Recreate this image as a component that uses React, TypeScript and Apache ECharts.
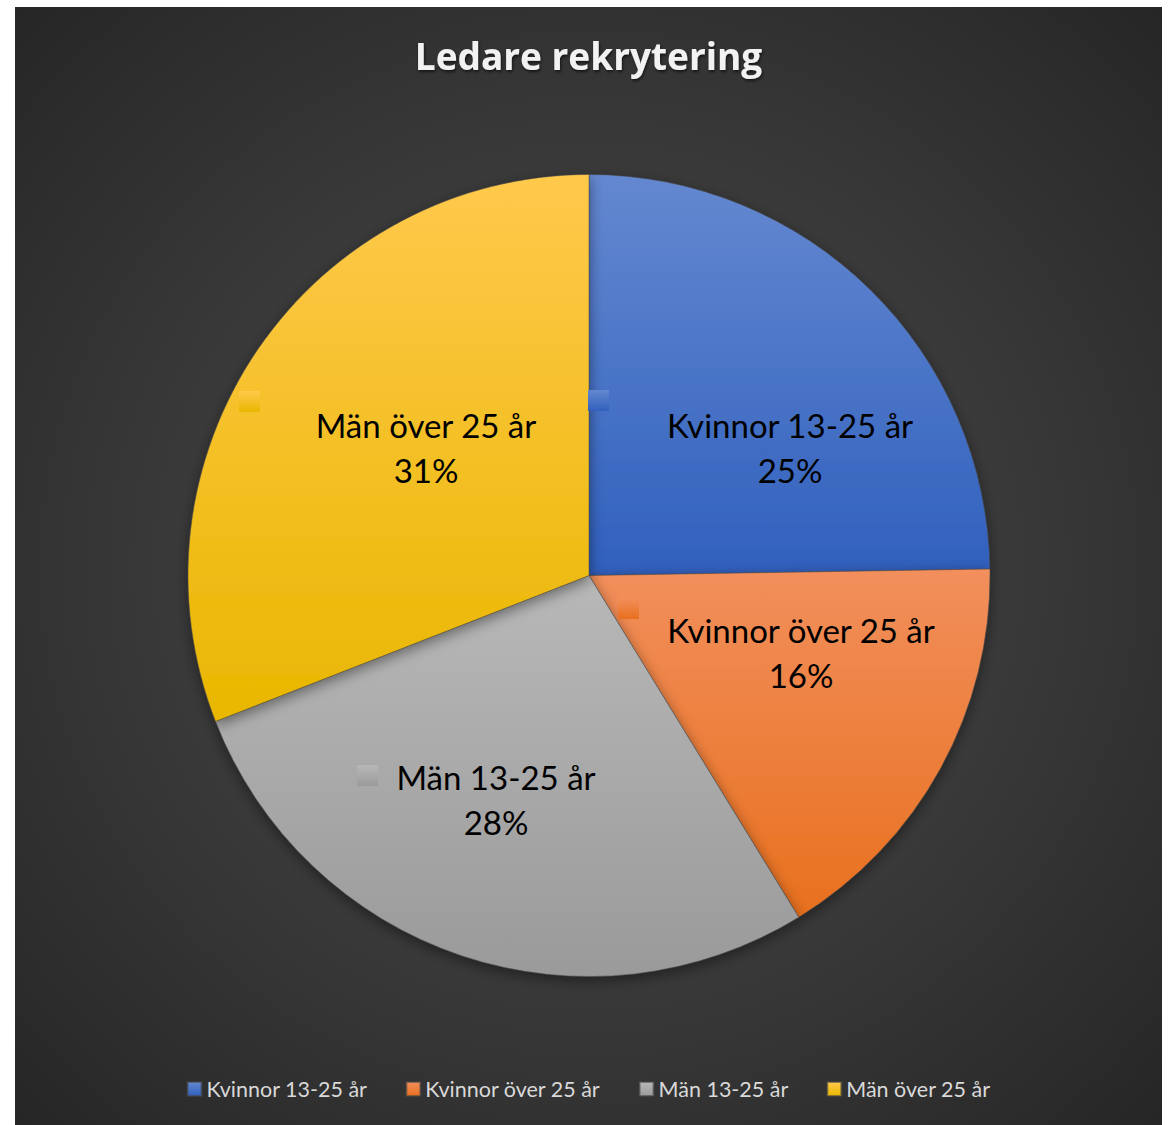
import React, { useEffect, useRef } from "react";
import * as echarts from "echarts";

const categories = ["Kvinnor 13-25 år", "Kvinnor över 25 år", "Män 13-25 år", "Män över 25 år"];
const values = [24, 16, 27, 30];
const colorTop = ["#6488d0", "#f28f5c", "#b8b8b8", "#ffc94c"];
const colorBottom = ["#3060bd", "#e8701e", "#9a9a9a", "#e9b700"];
const labelPos = [
  [775, 440],
  [786, 645],
  [481, 792],
  [411, 440],
];
const keyPos = [
  [573, 383],
  [603, 591],
  [342, 758],
  [224, 384],
];

const grad = (i: number) =>
  new echarts.graphic.LinearGradient(0, 0, 0, 1, [
    { offset: 0, color: colorTop[i] },
    { offset: 1, color: colorBottom[i] },
  ]);

export default function App() {
  const ref = useRef<HTMLDivElement>(null);
  useEffect(() => {
    const chart = echarts.init(ref.current!, null, { renderer: "svg" });
    const total = values.reduce((a, b) => a + b, 0);
    chart.setOption({
      animation: false,
      title: {
        text: "Ledare rekrytering",
        left: "center",
        top: 25,
        textStyle: {
          color: "#f2f2f2",
          fontFamily: "Open Sans",
          fontWeight: "bold",
          fontSize: 37,
          textShadowColor: "rgba(0,0,0,0.6)",
          textShadowBlur: 3,
          textShadowOffsetX: 1,
          textShadowOffsetY: 2,
        },
      },
      legend: {
        bottom: 20,
        left: "center",
        icon: "rect",
        itemWidth: 14,
        itemHeight: 14,
        itemGap: 38,
        textStyle: { color: "#d9d9d9", fontSize: 21.5, fontFamily: "Lato" },
        data: categories,
      },
      graphic: keyPos.map((p, i) => ({
        type: "rect",
        x: p[0],
        y: p[1],
        shape: { width: 21, height: 21 },
        style: { fill: grad(i) },
        z: 100,
      })),
      series: [
        {
          type: "pie",
          center: [574, 568.5],
          radius: 401,
          startAngle: 90,
          clockwise: true,
          data: categories.map((c, i) => ({
            name: c,
            value: values[i],
            itemStyle: { color: grad(i) },
          })),
          itemStyle: {
            borderColor: "rgba(70,70,70,0.6)",
            borderWidth: 0.8,
            shadowColor: "rgba(0,0,0,0.45)",
            shadowBlur: 14,
            shadowOffsetY: 4,
          },
          label: {
            show: true,
            position: "inside",
            formatter: (p: any) => `${p.name}\n${Math.round((p.value / total) * 100)}%`,
            color: "#000",
            fontFamily: "Lato",
            fontSize: 33,
            lineHeight: 45,
            align: "center",
          },
          labelLine: { show: false },
          labelLayout: (params: any) => ({
            x: labelPos[params.dataIndex][0],
            y: labelPos[params.dataIndex][1],
            align: "center",
            verticalAlign: "middle",
          }),
          emphasis: { disabled: true },
        },
      ],
    });
    return () => chart.dispose();
  }, []);
  return (
    <div
      style={{
        position: "absolute",
        left: 15,
        top: 7,
        width: 1147,
        height: 1118,
        background: "radial-gradient(ellipse at 50% 50%, #4e4e4e 0%, #3c3c3c 45%, #262626 100%)",
      }}
    >
      <div ref={ref} style={{ width: 1147, height: 1118 }} />
    </div>
  );
}
